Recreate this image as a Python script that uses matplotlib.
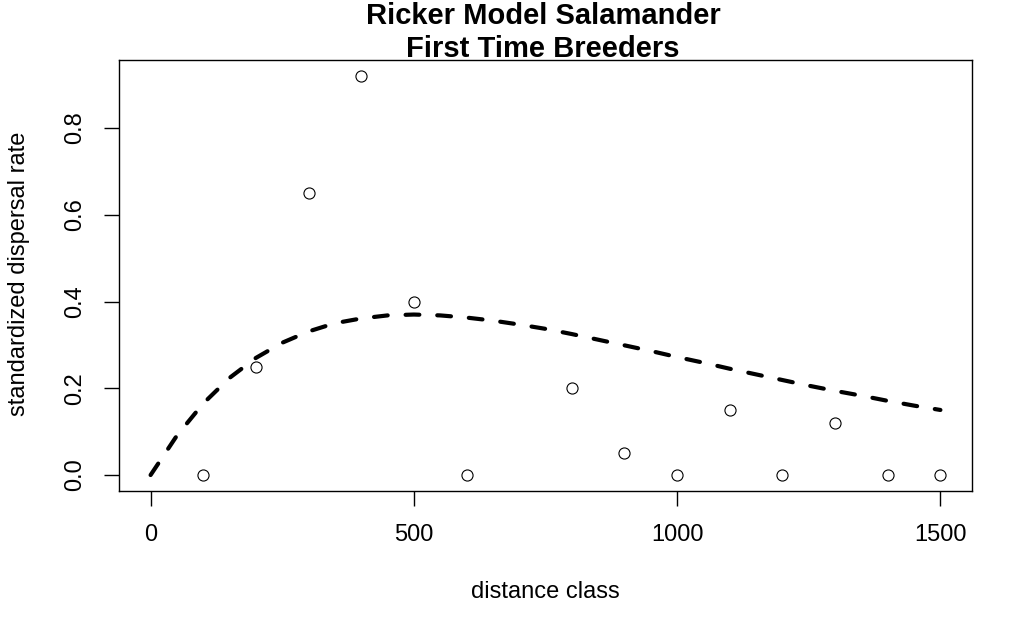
import matplotlib.pyplot as plt

plt.rcParams['font.family'] = ['Liberation Sans', 'DejaVu Sans']

# observed dispersal rates per distance class
dist = [100, 200, 300, 400, 500, 600, 800, 900, 1000, 1100, 1200, 1300, 1400, 1500]
rate = [0.0, 0.25, 0.65, 0.92, 0.40, 0.0, 0.20, 0.05, 0.0, 0.15, 0.0, 0.12, 0.0, 0.0]

# fitted curve
fit_x = [0, 50, 100, 150, 200, 250, 300, 350, 400, 450, 500, 550, 600, 650, 700, 750,
         800, 850, 900, 950, 1000, 1050, 1100, 1150, 1200, 1250, 1300, 1350, 1400, 1450, 1500]
fit_y = [0.0, 0.091, 0.165, 0.224, 0.270, 0.305, 0.331, 0.350, 0.361, 0.368, 0.370, 0.368,
         0.363, 0.356, 0.347, 0.337, 0.325, 0.312, 0.299, 0.286, 0.272, 0.259, 0.245, 0.232,
         0.219, 0.206, 0.194, 0.183, 0.171, 0.160, 0.150]

fig = plt.figure(figsize=(10.32, 6.37), dpi=100)
ax = fig.add_axes([119/1032, 1 - 491/637, (972-119)/1032, (491-60)/637])

ax.plot(dist, rate, 'o', mfc='white', mec='black', ms=8, mew=0.8, zorder=3)
ax.plot(fit_x, fit_y, color='black', lw=3, ls=(0, (3.3, 4.3)), dash_capstyle='round', zorder=2)

ax.set_xlim(-60, 1560)
ax.set_ylim(-0.0368, 0.9568)
ax.set_xticks([0, 500, 1000, 1500])
ax.set_yticks([0.0, 0.2, 0.4, 0.6, 0.8])
ax.set_yticklabels(['0.0', '0.2', '0.4', '0.6', '0.8'], rotation=90, va='center')
ax.tick_params(direction='out', length=11, width=1, labelsize=17, pad=13)
for s in ax.spines.values():
    s.set_linewidth(1)

fig.text(545/1032, 1 - 592/637, 'distance class', ha='center', va='center', fontsize=17)
fig.text(19/1032, 1 - 274/637, 'standardized dispersal rate', ha='center', va='center',
         rotation=90, fontsize=17)
fig.text(543/1032, 1 - 16/637, 'Ricker Model Salamander', ha='center', va='center',
         fontsize=21, fontweight='bold')
fig.text(543/1032, 1 - 49/637, 'First Time Breeders', ha='center', va='center',
         fontsize=21, fontweight='bold')

plt.savefig('out.png', dpi=100)
